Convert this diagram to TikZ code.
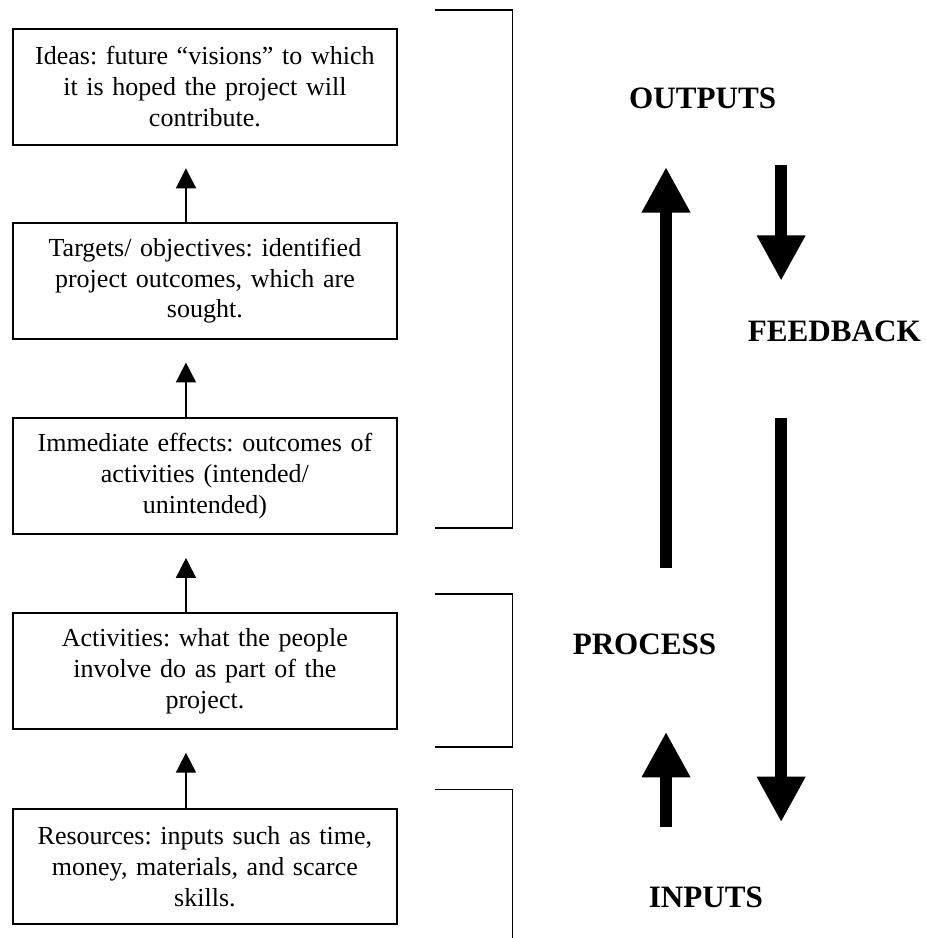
\documentclass[tikz,border=0pt]{standalone}
\usepackage{fontspec}
\setmainfont{Liberation Serif}
\usetikzlibrary{
    arrows.meta
}
\frenchspacing

\begin{document}
\begin{tikzpicture}[
        stage/.style={
            rectangle,
            draw,
            line width=0.9pt,
            text width=5.7cm,
            inner xsep=0.19cm,
            minimum height=1.83cm,
            align=center,
            font=\fontsize{11.7}{13.8}\selectfont\frenchspacing
        },
        link/.style={
            -{Triangle[width=9pt,length=9pt]},
            line width=0.8pt,
            shorten >=0.36cm
        },
        bigarrow/.style={
            -{Triangle[width=20.5pt,length=20.5pt]},
            line width=5.3pt
        },
        bracket/.style={line width=0.7pt},
        phase/.style={
            anchor=base,
            font=\fontsize{14}{16.8}\selectfont\bfseries
        }
    ]
        \useasboundingbox (0,0) rectangle (14.63,-14.83);

        % the chain of stages
        \node[stage] (ideas) at (3.24,-1.37)
            {Ideas: future “visions” to which\\ it is hoped the project will\\ contribute.};
        \node[stage] (targets) at (3.24,-4.44)
            {Targets/ objectives: identified\\ project outcomes, which are\\ sought.};
        \node[stage] (effects) at (3.24,-7.53)
            {Immediate effects: outcomes of\\ activities (intended/\\ unintended)};
        \node[stage] (activities) at (3.24,-10.61)
            {Activities: what the people\\ involve do as part of the\\ project.};
        \node[stage] (resources) at (3.24,-13.70)
            {Resources: inputs such as time,\\ money, materials, and scarce\\ skills.};

        \foreach \a/\b in {resources/activities, activities/effects,
                           effects/targets, targets/ideas}
            \draw[link] ([xshift=-0.30cm]\a.north) -- ([xshift=-0.30cm]\b.south);

        % brackets
        \draw[bracket] (6.88,-0.16) -| (8.10,-8.35) -- (6.88,-8.35);
        \draw[bracket] (6.88,-9.39) -| (8.10,-11.81) -- (6.88,-11.81);
        \draw[bracket] (6.88,-12.48) -| (8.10,-14.83);

        % phase labels
        \node[phase] (outputs) at (11.11,-1.71) {OUTPUTS};
        \node[phase] (feedback) at (13.19,-5.40) {FEEDBACK};
        \node[phase] (process) at (10.19,-10.35) {PROCESS};
        \node[phase] (inputs) at (11.16,-14.34) {INPUTS};

        % big arrows
        \coordinate (rise low) at (10.53,-8.98);
        \coordinate (rise high) at (10.53,-2.64);
        \coordinate (start low) at (10.53,-13.07);
        \coordinate (start high) at (10.53,-11.57);
        \coordinate (back top) at (12.35,-2.61);
        \coordinate (back mid) at (12.35,-4.44);
        \coordinate (down top) at (12.35,-6.61);
        \coordinate (down low) at (12.35,-13.00);
        \draw[bigarrow] (rise low) -- (rise high);
        \draw[bigarrow] (start low) -- (start high);
        \draw[bigarrow] (back top) -- (back mid);
        \draw[bigarrow] (down top) -- (down low);
    \end{tikzpicture}
\end{document}
